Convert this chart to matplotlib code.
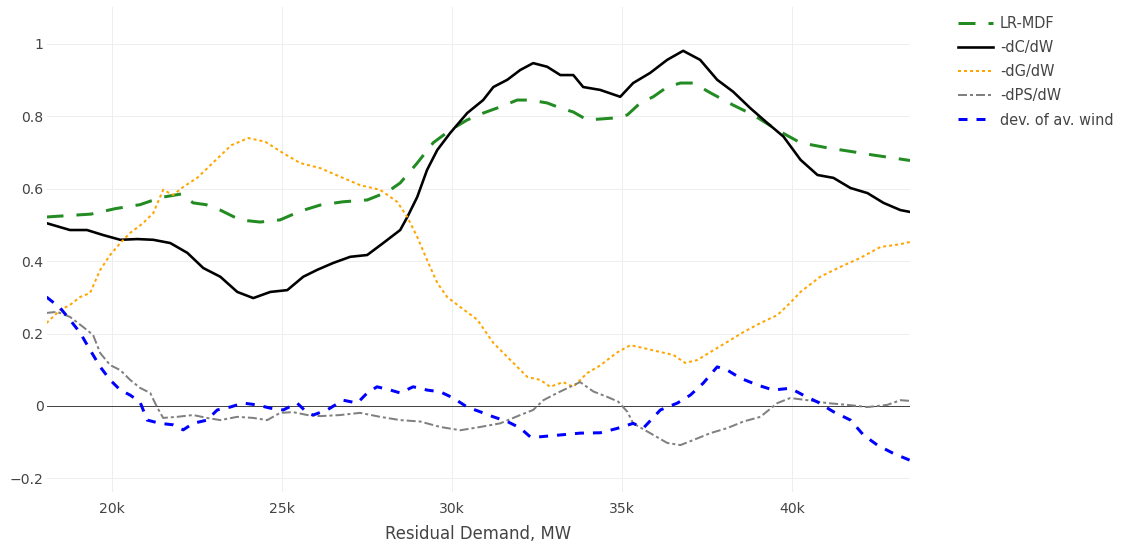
import matplotlib
matplotlib.use("Agg")
import matplotlib.pyplot as plt

# ---- data (x in MW) ----
lr_mdf_x = [18070, 19380, 20090, 20820, 21440, 22060, 22380, 22760, 23180, 23760,
            24350, 24940, 25530, 26120, 26790, 27500, 28090, 28470, 28970, 29440,
            29940, 30440, 30910, 31410, 31910, 32290, 32790, 33180, 33560, 33970,
            34850, 35150, 35530, 35910, 36320, 36710, 37090, 37590, 38260, 38850,
            39560, 40240, 41030, 41790, 42380, 42970, 43460]
lr_mdf_y = [0.522, 0.530, 0.545, 0.556, 0.576, 0.586, 0.561, 0.556, 0.541, 0.514,
            0.508, 0.514, 0.538, 0.555, 0.564, 0.569, 0.591, 0.616, 0.671, 0.727,
            0.762, 0.790, 0.809, 0.826, 0.845, 0.845, 0.837, 0.823, 0.812, 0.790,
            0.796, 0.804, 0.837, 0.854, 0.881, 0.892, 0.892, 0.865, 0.831, 0.804,
            0.762, 0.727, 0.713, 0.702, 0.693, 0.685, 0.678]

dc_x = [18070, 18760, 19260, 19740, 20240, 20740, 21210, 21710, 22210, 22680,
        23180, 23680, 24150, 24650, 25150, 25620, 26030, 26500, 27000, 27500,
        27970, 28470, 28680, 28970, 29260, 29560, 29940, 30440, 30910, 31210,
        31620, 32000, 32380, 32790, 33180, 33560, 33850, 34350, 34940, 35320,
        35820, 36320, 36790, 37290, 37790, 38260, 38760, 39260, 39740, 40240,
        40740, 41210, 41710, 42210, 42680, 43180, 43460]
dc_y = [0.505, 0.486, 0.486, 0.472, 0.459, 0.461, 0.459, 0.450, 0.423, 0.381,
        0.357, 0.315, 0.298, 0.315, 0.320, 0.357, 0.376, 0.395, 0.412, 0.417,
        0.450, 0.486, 0.522, 0.577, 0.652, 0.707, 0.754, 0.809, 0.845, 0.881,
        0.901, 0.928, 0.947, 0.937, 0.914, 0.914, 0.881, 0.873, 0.854, 0.892,
        0.920, 0.956, 0.981, 0.956, 0.901, 0.868, 0.823, 0.782, 0.744, 0.680,
        0.638, 0.630, 0.602, 0.588, 0.561, 0.541, 0.536]

dg_x = [18070, 18470, 18760, 19060, 19350, 19650, 19940, 20240, 20530, 20910,
        21210, 21500, 21790, 22090, 22500, 23000, 23500, 24000, 24500, 25000,
        25530, 26120, 26710, 27290, 27880, 28380, 28680, 28970, 29260, 29560,
        29850, 30240, 30740, 31210, 31710, 32210, 32590, 32880, 33260, 33560,
        33970, 34350, 34850, 35240, 35620, 36120, 36500, 36850, 37210, 37590,
        38090, 38560, 39060, 39560, 39940, 40240, 40820, 41410, 42000, 42590,
        43180, 43460]
dg_y = [0.229, 0.265, 0.279, 0.301, 0.312, 0.376, 0.417, 0.450, 0.478, 0.505,
        0.533, 0.597, 0.583, 0.605, 0.630, 0.675, 0.720, 0.740, 0.730, 0.700,
        0.671, 0.657, 0.633, 0.610, 0.597, 0.564, 0.522, 0.467, 0.403, 0.340,
        0.301, 0.273, 0.238, 0.174, 0.127, 0.080, 0.072, 0.053, 0.066, 0.053,
        0.091, 0.112, 0.148, 0.168, 0.160, 0.149, 0.141, 0.119, 0.127, 0.149,
        0.177, 0.204, 0.229, 0.251, 0.285, 0.315, 0.357, 0.384, 0.409, 0.439,
        0.447, 0.453]

dps_x = [18070, 18380, 18760, 19150, 19440, 19650, 19940, 20240, 20530, 20820,
         21120, 21320, 21500, 21910, 22380, 22790, 23180, 23680, 24150, 24560,
         24940, 25320, 25740, 26120, 26710, 27290, 27880, 28470, 29060, 29650,
         30240, 30820, 31410, 32000, 32380, 32680, 33090, 33470, 33760, 34150,
         34560, 34880, 35150, 35320, 35820, 36320, 36710, 37090, 37590, 38090,
         38560, 39060, 39560, 39940, 40440, 41030, 41620, 42210, 42790, 43180,
         43460]
dps_y = [0.257, 0.260, 0.246, 0.218, 0.196, 0.146, 0.113, 0.099, 0.072, 0.050,
         0.036, -0.003, -0.033, -0.030, -0.025, -0.033, -0.039, -0.030, -0.033, -0.039,
         -0.019, -0.017, -0.025, -0.028, -0.025, -0.019, -0.030, -0.039, -0.043, -0.058,
         -0.067, -0.058, -0.048, -0.025, -0.011, 0.016, 0.036, 0.053, 0.066, 0.040,
         0.025, 0.012, -0.016, -0.048, -0.075, -0.102, -0.108, -0.094, -0.075, -0.061,
         -0.043, -0.030, 0.008, 0.022, 0.016, 0.008, 0.003, -0.003, 0.003, 0.016,
         0.014]

wind_x = [18070, 18470, 18760, 19060, 19350, 19650, 19940, 20240, 20530, 20820,
          21030, 21410, 21790, 22090, 22380, 22790, 23090, 23470, 23850, 24260,
          24650, 25030, 25440, 25740, 25910, 26320, 26790, 27210, 27500, 27790,
          28180, 28470, 28850, 29260, 29650, 30030, 30440, 30820, 31210, 31620,
          32000, 32290, 32590, 33180, 33760, 34350, 34850, 35320, 35620, 36120,
          36620, 37000, 37380, 37790, 38090, 38470, 38970, 39440, 39940, 40320,
          40740, 41210, 41710, 42090, 42500, 42970, 43460]
wind_y = [0.301, 0.271, 0.238, 0.202, 0.155, 0.108, 0.072, 0.044, 0.030, 0.011,
          -0.039, -0.048, -0.052, -0.066, -0.048, -0.039, -0.011, -0.003, 0.008, 0.003,
          -0.006, -0.011, 0.008, -0.019, -0.025, -0.011, 0.016, 0.008, 0.036, 0.053,
          0.044, 0.036, 0.053, 0.044, 0.039, 0.022, -0.003, -0.016, -0.030, -0.043,
          -0.061, -0.085, -0.085, -0.080, -0.075, -0.074, -0.062, -0.048, -0.061, -0.011,
          0.008, 0.030, 0.063, 0.108, 0.099, 0.077, 0.058, 0.044, 0.049, 0.030,
          0.011, -0.016, -0.039, -0.080, -0.108, -0.131, -0.150]

x_ticks = [20000, 25000, 30000, 35000, 40000]
x_tick_labels = ["20k", "25k", "30k", "35k", "40k"]
y_ticks = [-0.2, 0, 0.2, 0.4, 0.6, 0.8, 1]
y_tick_labels = ["\u22120.2", "0", "0.2", "0.4", "0.6", "0.8", "1"]

# ---- styling ----
plt.rcParams["font.family"] = ["DejaVu Sans"]
plt.rcParams["lines.scale_dashes"] = False
PX = 0.72  # points per pixel at 100 dpi
TXT = "#444444"

fig = plt.figure(figsize=(11.24, 5.48), dpi=100)
W, H = 1124, 548
left, right, top, bottom = 46.5, 910, 7, 492
ax = fig.add_axes([left / W, 1 - bottom / H, (right - left) / W, (bottom - top) / H])

ax.plot(lr_mdf_x, lr_mdf_y, color="#228B22", lw=3 * PX,
        linestyle=(0, (17 * PX, 13 * PX)), label="LR-MDF")
ax.plot(dc_x, dc_y, color="black", lw=2.6 * PX, label="-dC/dW")
ax.plot(dg_x, dg_y, color="#FFA500", lw=2 * PX,
        linestyle=(0, (3 * PX, 3 * PX)), label="-dG/dW")
ax.plot(dps_x, dps_y, color="gray", lw=2 * PX,
        linestyle=(0, (9 * PX, 3 * PX, 3 * PX, 3 * PX)), label="-dPS/dW")
ax.plot(wind_x, wind_y, color="blue", lw=3 * PX,
        linestyle=(0, (9 * PX, 9 * PX)), label="dev. of av. wind")

ax.set_xlim(18070, 43460)
ax.set_ylim(-0.2376, 1.102)

ax.set_xticks(x_ticks)
ax.set_xticklabels(x_tick_labels)
ax.set_yticks(y_ticks)
ax.set_yticklabels(y_tick_labels)
ax.tick_params(axis="both", length=0, colors=TXT, labelsize=14 * PX)
ax.tick_params(axis="x", pad=10 * PX)
ax.tick_params(axis="y", pad=3 * PX)

ax.grid(True, color="#eeeeee", lw=1 * PX, zorder=0)
ax.set_axisbelow(True)
ax.axhline(0, color="#444444", lw=1 * PX, zorder=1)
for s in ax.spines.values():
    s.set_visible(False)

ax.set_xlabel("Residual Demand, MW", color=TXT, fontsize=16.5 * PX, labelpad=9 * PX)

leg = fig.legend(loc="upper left", bbox_to_anchor=(958 / W, 1 - 16 / H),
                 frameon=False, fontsize=14.5 * PX, handlelength=35 / 14.5,
                 handletextpad=7 / 14.5, labelspacing=0.63, borderpad=0,
                 borderaxespad=0)
for t in leg.get_texts():
    t.set_color(TXT)

fig.savefig("out.png", dpi=100)
